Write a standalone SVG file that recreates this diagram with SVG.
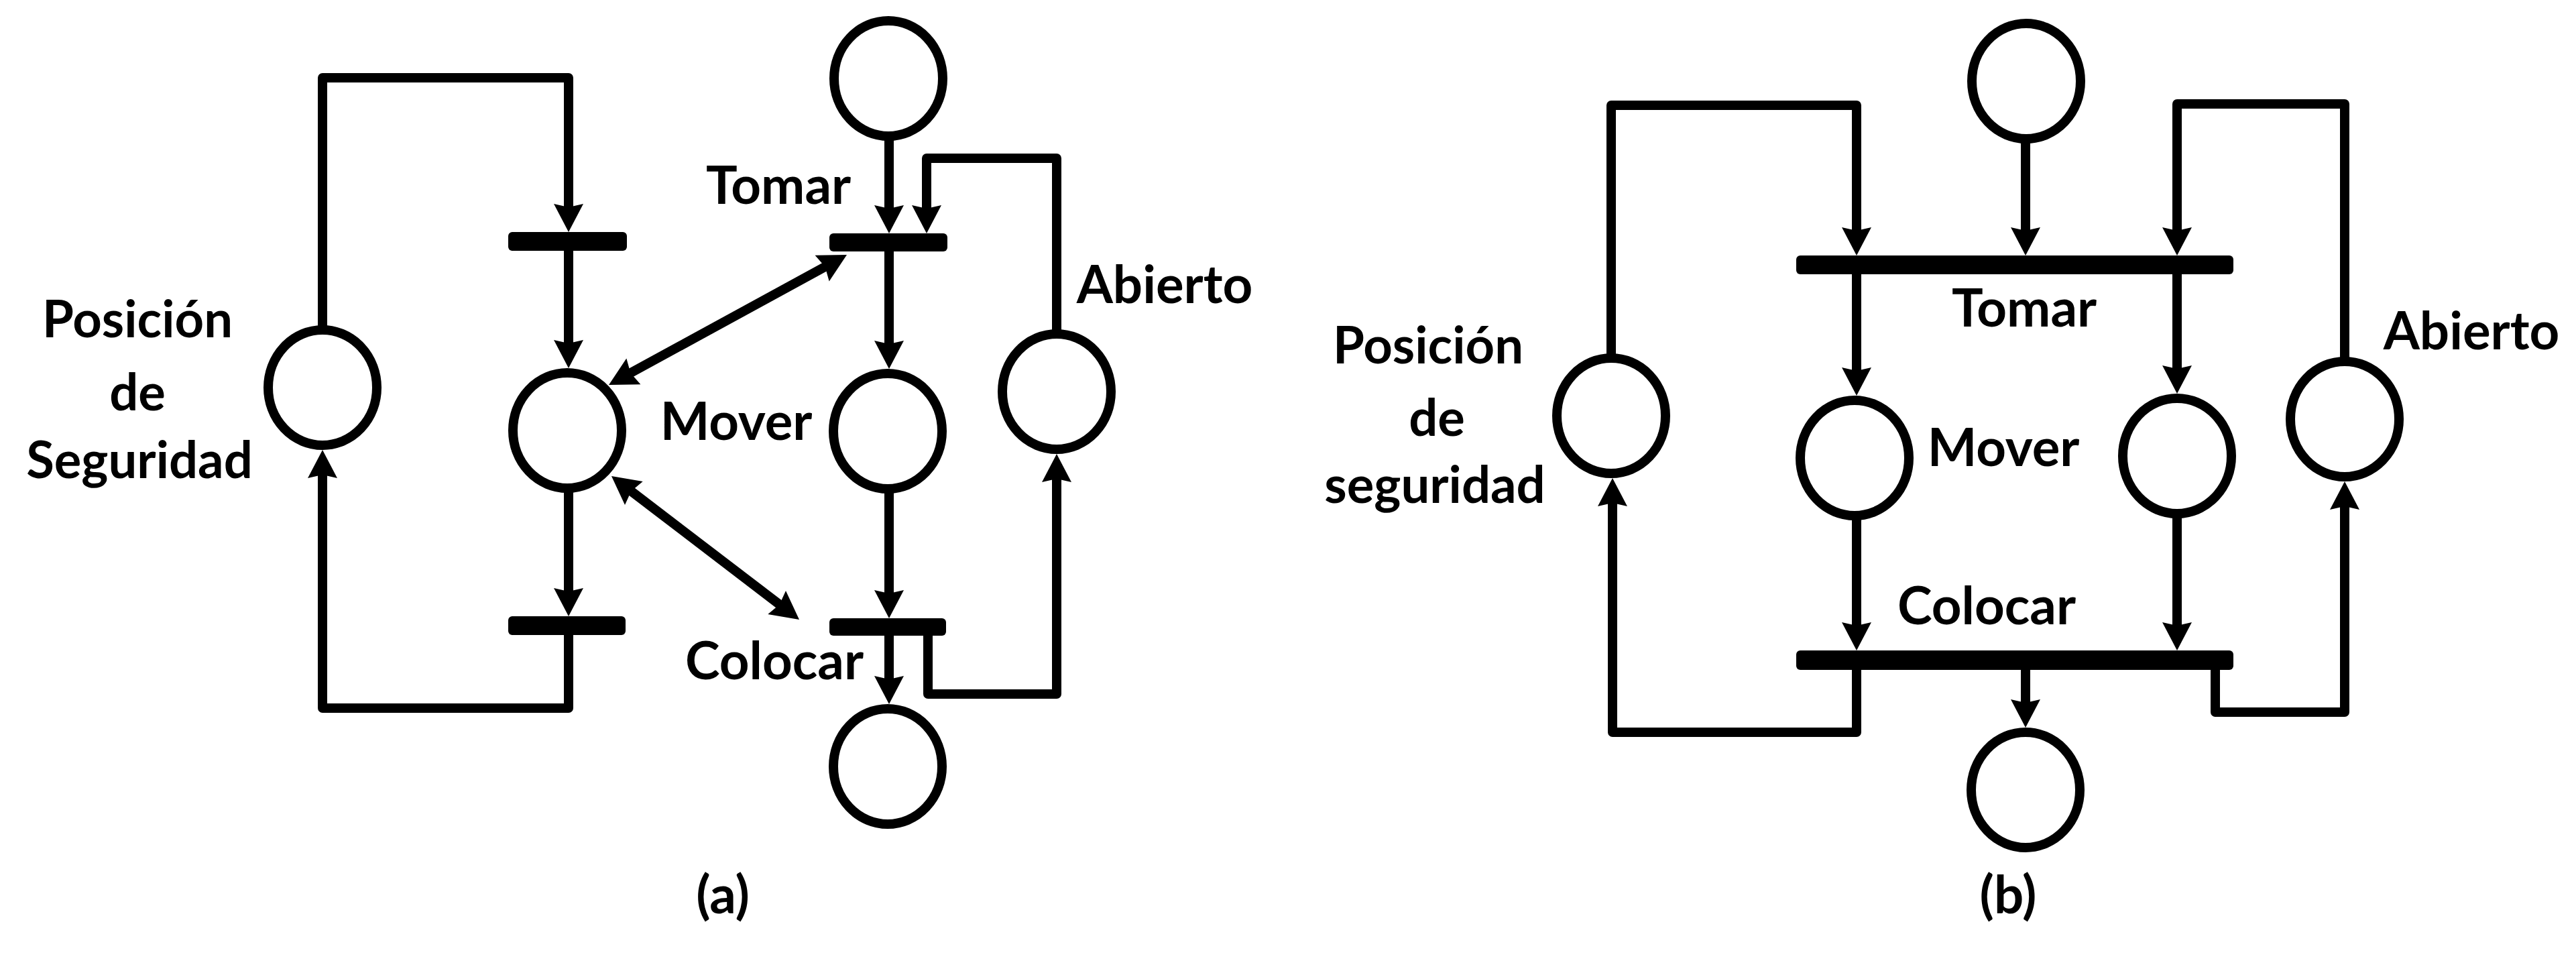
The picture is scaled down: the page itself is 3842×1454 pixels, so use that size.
<svg xmlns="http://www.w3.org/2000/svg" width="3842" height="1454" viewBox="0 0 3842 1454">
<style>
.place{fill:#fff;stroke:#000;stroke-width:14}
.trans{fill:#000}
.arc{fill:none;stroke:#000;stroke-width:14;stroke-linejoin:round}
.lbl{font-family:Lato,"Liberation Sans",sans-serif;font-weight:bold;font-size:78px;fill:#000;text-anchor:middle}
</style>
<defs>
<marker id="ah" markerUnits="userSpaceOnUse" markerWidth="80" markerHeight="80" refX="0" refY="0" orient="auto" overflow="visible">
<path d="M36 0 L-6 -22 L-1 0 L-6 22 Z" fill="#000"/>
</marker>
<marker id="ahs" markerUnits="userSpaceOnUse" markerWidth="80" markerHeight="80" refX="0" refY="0" orient="auto-start-reverse" overflow="visible">
<path d="M36 0 L-6 -22 L-1 0 L-6 22 Z" fill="#000"/>
</marker>
</defs>
<rect width="3842" height="1454" fill="#fff"/>

<g id="connectors">
<!-- (a) -->
<path class="arc" d="M481 492 V116 H848 V310" marker-end="url(#ah)"/>
<path class="arc" d="M848 374 V513" marker-end="url(#ah)"/>
<path class="arc" d="M848 728 V883" marker-end="url(#ah)"/>
<path class="arc" d="M848 947 V1056 H481 V707" marker-end="url(#ah)"/>
<path class="arc" d="M1326 203 V312" marker-end="url(#ah)"/>
<path class="arc" d="M1576 498 V236 H1382 V312" marker-end="url(#ah)"/>
<path class="arc" d="M1326 375 V514" marker-end="url(#ah)"/>
<path class="arc" d="M1326 729 V886" marker-end="url(#ah)"/>
<path class="arc" d="M1326 947 V1014" marker-end="url(#ah)"/>
<path class="arc" d="M1384 947 V1035 H1576 V713" marker-end="url(#ah)"/>
<path class="arc" d="M939.6 556.7 L1231.4 397.3" marker-start="url(#ahs)" marker-end="url(#ahs)"/>
<path class="arc" d="M940.6 731.9 L1163.4 902.1" marker-start="url(#ahs)" marker-end="url(#ahs)"/>
<!-- (b) -->
<path class="arc" d="M2403 534 V157 H2769 V345" marker-end="url(#ah)"/>
<path class="arc" d="M3021 207 V345" marker-end="url(#ah)"/>
<path class="arc" d="M3497 539 V155 H3247 V345" marker-end="url(#ah)"/>
<path class="arc" d="M2769 409 V554" marker-end="url(#ah)"/>
<path class="arc" d="M3247 409 V551" marker-end="url(#ah)"/>
<path class="arc" d="M2769 769 V934" marker-end="url(#ah)"/>
<path class="arc" d="M3247 766 V934" marker-end="url(#ah)"/>
<path class="arc" d="M2769 999 V1092 H2405 V749" marker-end="url(#ah)"/>
<path class="arc" d="M3304 999 V1062 H3497 V754" marker-end="url(#ah)"/>
<path class="arc" d="M3021 999 V1049" marker-end="url(#ah)"/>
</g>

<!-- (a) nodes -->
<g id="a-posicion-seguridad">
<ellipse class="place" cx="481" cy="578" rx="81" ry="86"/>
<text class="lbl" x="205" y="503" style="font-size:76px">Posición</text>
<text class="lbl" x="205" y="612" style="font-size:76px">de</text>
<text class="lbl" x="208" y="713" style="font-size:76px">Seguridad</text>
</g>
<g id="a-t1"><rect class="trans" x="758" y="346" width="177" height="28" rx="6"/></g>
<g id="a-middle"><ellipse class="place" cx="846" cy="642" rx="81" ry="86"/></g>
<g id="a-t2"><rect class="trans" x="758" y="919" width="175" height="28" rx="6"/></g>
<g id="a-top"><ellipse class="place" cx="1325" cy="117" rx="81" ry="86"/></g>
<g id="a-tomar">
<rect class="trans" x="1237" y="348" width="176" height="27" rx="6"/>
<text class="lbl" x="1161" y="304">Tomar</text>
</g>
<g id="a-mover">
<ellipse class="place" cx="1324" cy="643" rx="81" ry="86"/>
<text class="lbl" x="1098" y="656">Mover</text>
</g>
<g id="a-abierto">
<ellipse class="place" cx="1576" cy="584" rx="81" ry="86"/>
<text class="lbl" x="1737" y="452">Abierto</text>
</g>
<g id="a-colocar">
<rect class="trans" x="1237" y="922" width="174" height="26" rx="6"/>
<text class="lbl" x="1155" y="1013">Colocar</text>
</g>
<g id="a-bottom"><ellipse class="place" cx="1324" cy="1143" rx="81" ry="86"/></g>
<g id="label-a"><text class="lbl" x="1078" y="1362">(a)</text></g>

<!-- (b) nodes -->
<g id="b-top"><ellipse class="place" cx="3022" cy="121" rx="81" ry="86"/></g>
<g id="b-posicion-seguridad">
<ellipse class="place" cx="2403" cy="620" rx="81" ry="86"/>
<text class="lbl" x="2130" y="542" style="font-size:76px">Posición</text>
<text class="lbl" x="2143" y="650" style="font-size:76px">de</text>
<text class="lbl" x="2140" y="750" style="font-size:76px">seguridad</text>
</g>
<g id="b-tomar">
<rect class="trans" x="2679" y="381" width="652" height="28" rx="6"/>
<text class="lbl" x="3019" y="487">Tomar</text>
</g>
<g id="b-mover1">
<ellipse class="place" cx="2766" cy="683" rx="81" ry="86"/>
<text class="lbl" x="2988" y="695">Mover</text>
</g>
<g id="b-mover2"><ellipse class="place" cx="3247" cy="680" rx="81" ry="86"/></g>
<g id="b-abierto">
<ellipse class="place" cx="3497" cy="625" rx="81" ry="86"/>
<text class="lbl" x="3686" y="521">Abierto</text>
</g>
<g id="b-colocar">
<rect class="trans" x="2679" y="970" width="652" height="29" rx="6"/>
<text class="lbl" x="2963" y="931">Colocar</text>
</g>
<g id="b-bottom"><ellipse class="place" cx="3021" cy="1178" rx="81" ry="86"/></g>
<g id="label-b"><text class="lbl" x="2995" y="1362">(b)</text></g>
</svg>
